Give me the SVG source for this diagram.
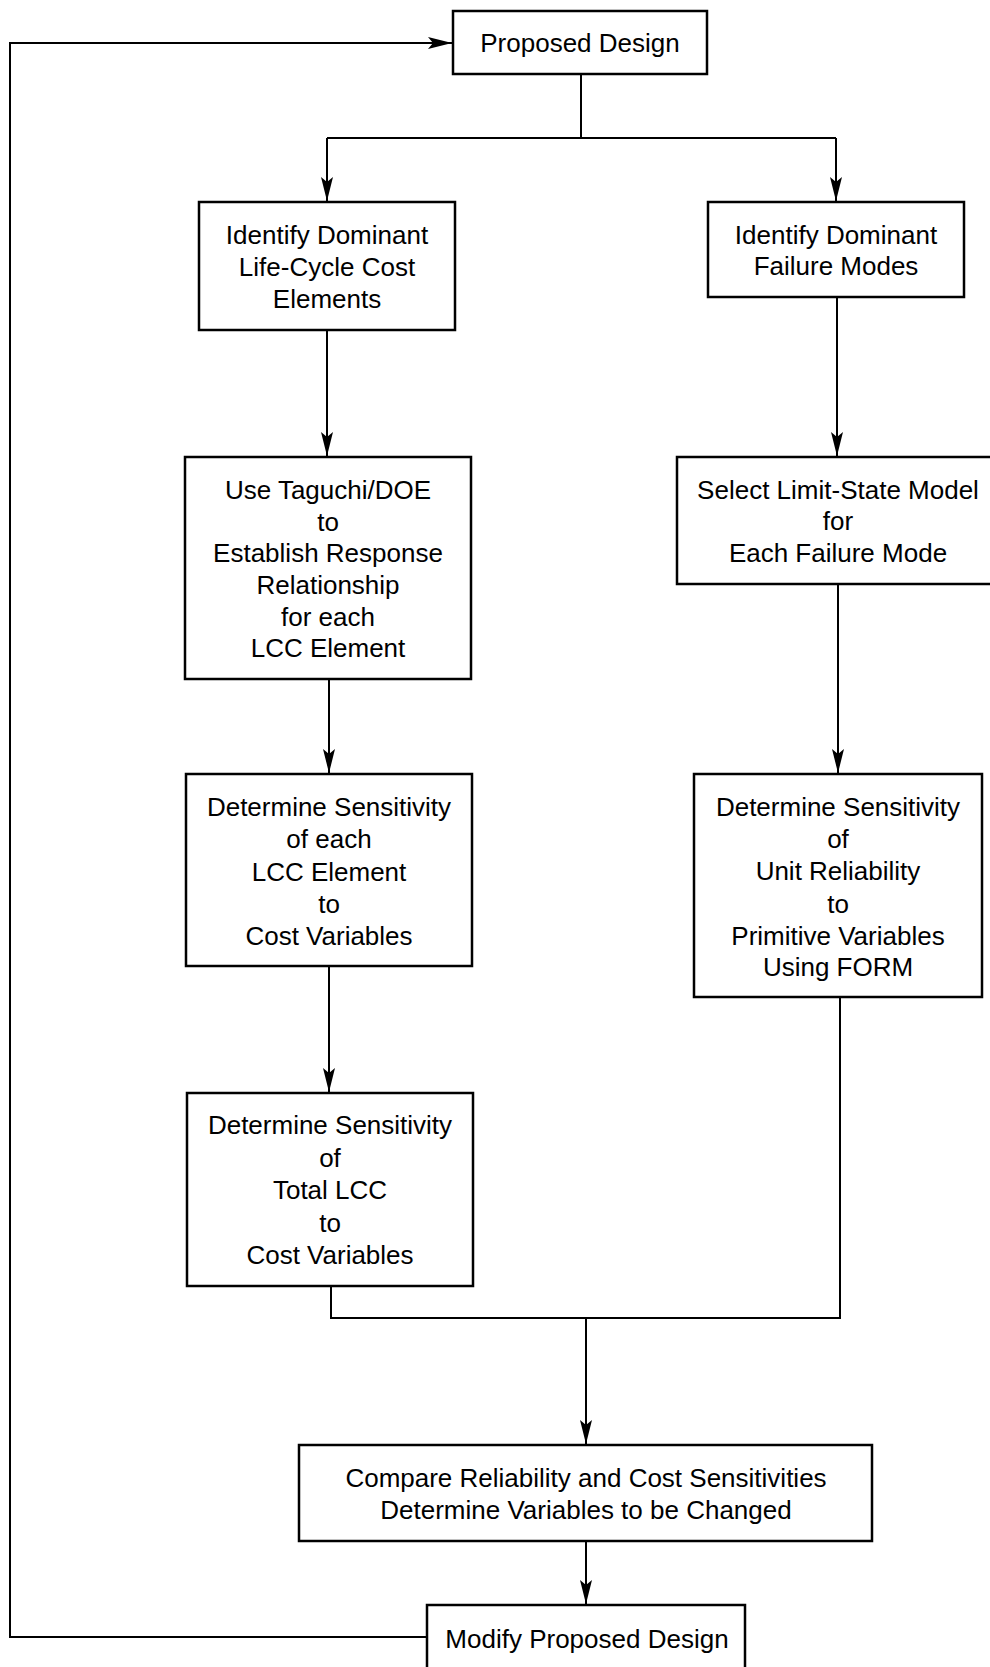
<svg xmlns="http://www.w3.org/2000/svg" width="990" height="1667" viewBox="0 0 990 1667">
<style>
.box{fill:#fff;stroke:#000;stroke-width:2.5}
.t{font-family:"Liberation Sans",Arial,Helvetica,sans-serif;font-size:26px;fill:#000;text-anchor:middle}
.c{fill:none;stroke:#000;stroke-width:2}
</style>
<defs>
<marker id="ah" markerUnits="userSpaceOnUse" markerWidth="30" markerHeight="16" viewBox="-26 -8 28 16" refX="0" refY="0" orient="auto">
<path d="M0,0 L-24,-6 L-19,0 L-24,6 Z" fill="#000"/>
</marker>
</defs>
<rect width="990" height="1667" fill="#fff"/>
<g id="connectors">
<polyline class="c" points="427,1637 10,1637 10,43 452,43" marker-end="url(#ah)"/>
<polyline class="c" points="581,74 581,138"/>
<polyline class="c" points="327,138 836,138"/>
<line class="c" x1="327" y1="138" x2="327" y2="201" marker-end="url(#ah)"/>
<line class="c" x1="836" y1="138" x2="836" y2="201" marker-end="url(#ah)"/>
<line class="c" x1="327" y1="330" x2="327" y2="456" marker-end="url(#ah)"/>
<line class="c" x1="837" y1="297" x2="837" y2="456" marker-end="url(#ah)"/>
<line class="c" x1="329" y1="679" x2="329" y2="773" marker-end="url(#ah)"/>
<line class="c" x1="838" y1="584" x2="838" y2="773" marker-end="url(#ah)"/>
<line class="c" x1="329" y1="966" x2="329" y2="1092" marker-end="url(#ah)"/>
<polyline class="c" points="331,1286 331,1318 840,1318 840,997"/>
<line class="c" x1="586" y1="1318" x2="586" y2="1444" marker-end="url(#ah)"/>
<line class="c" x1="586" y1="1541" x2="586" y2="1604" marker-end="url(#ah)"/>
</g>
<g id="proposed">
<rect class="box" x="453" y="11" width="254" height="63"/>
<text class="t" x="580" y="52">Proposed Design</text>
</g>
<g id="lcc-elements">
<rect class="box" x="199" y="202" width="256" height="128"/>
<text class="t" x="327"><tspan x="327" y="244">Identify Dominant</tspan><tspan x="327" y="276">Life-Cycle Cost</tspan><tspan x="327" y="308">Elements</tspan></text>
</g>
<g id="failure-modes">
<rect class="box" x="708" y="202" width="256" height="95"/>
<text class="t"><tspan x="836" y="244">Identify Dominant</tspan><tspan x="836" y="275">Failure Modes</tspan></text>
</g>
<g id="taguchi">
<rect class="box" x="185" y="457" width="286" height="222"/>
<text class="t"><tspan x="328" y="499">Use Taguchi/DOE</tspan><tspan x="328" y="531">to</tspan><tspan x="328" y="562">Establish Response</tspan><tspan x="328" y="594">Relationship</tspan><tspan x="328" y="626">for each</tspan><tspan x="328" y="657">LCC Element</tspan></text>
</g>
<g id="limit-state">
<rect class="box" x="677" y="457" width="320" height="127"/>
<text class="t"><tspan x="838" y="499">Select Limit-State Model</tspan><tspan x="838" y="530">for</tspan><tspan x="838" y="562">Each Failure Mode</tspan></text>
</g>
<g id="sens-lcc-element">
<rect class="box" x="186" y="774" width="286" height="192"/>
<text class="t"><tspan x="329" y="816">Determine Sensitivity</tspan><tspan x="329" y="848">of each</tspan><tspan x="329" y="881">LCC Element</tspan><tspan x="329" y="913">to</tspan><tspan x="329" y="945">Cost Variables</tspan></text>
</g>
<g id="sens-reliability">
<rect class="box" x="694" y="774" width="288" height="223"/>
<text class="t"><tspan x="838" y="816">Determine Sensitivity</tspan><tspan x="838" y="848">of</tspan><tspan x="838" y="880">Unit Reliability</tspan><tspan x="838" y="913">to</tspan><tspan x="838" y="945">Primitive Variables</tspan><tspan x="838" y="976">Using FORM</tspan></text>
</g>
<g id="sens-total-lcc">
<rect class="box" x="187" y="1093" width="286" height="193"/>
<text class="t"><tspan x="330" y="1134">Determine Sensitivity</tspan><tspan x="330" y="1167">of</tspan><tspan x="330" y="1199">Total LCC</tspan><tspan x="330" y="1232">to</tspan><tspan x="330" y="1264">Cost Variables</tspan></text>
</g>
<g id="compare">
<rect class="box" x="299" y="1445" width="573" height="96"/>
<text class="t"><tspan x="586" y="1487">Compare Reliability and Cost Sensitivities</tspan><tspan x="586" y="1519">Determine Variables to be Changed</tspan></text>
</g>
<g id="modify">
<rect class="box" x="427" y="1605" width="318" height="80"/>
<text class="t" x="587" y="1648">Modify Proposed Design</text>
</g>
</svg>
